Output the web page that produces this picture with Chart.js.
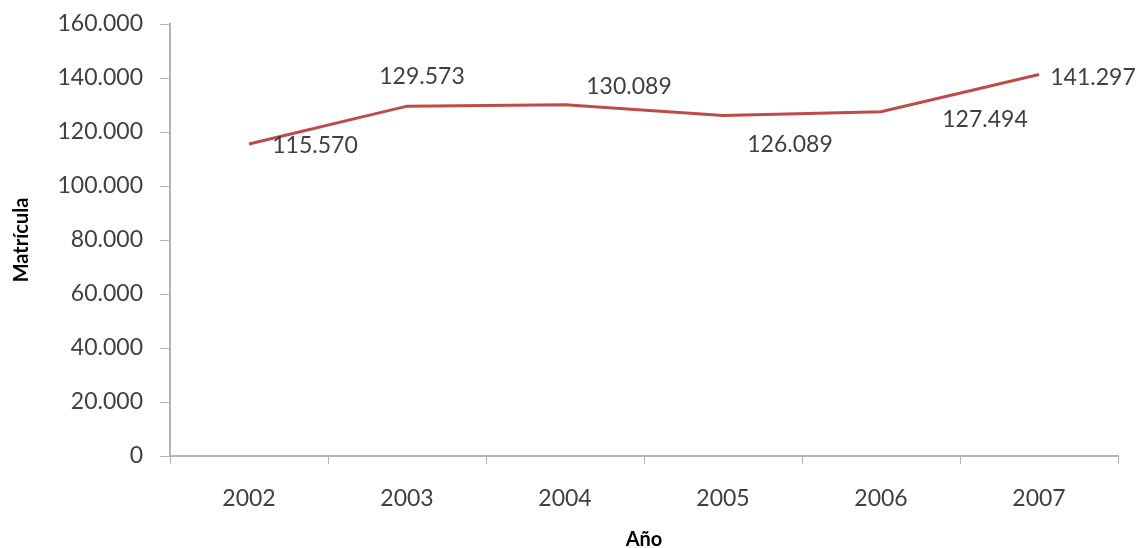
<!DOCTYPE html>
<html lang="es">

<head>
    <meta charset="UTF-8">
    <title>Matrícula 2002-2007</title>
    <style>
        html, body { margin: 0; padding: 0; background: #fff; }
        #wrap { width: 1141px; height: 548px; }
    </style>
</head>

<body>
    <div id="wrap">
        <canvas id="myChart" width="1141" height="548"></canvas>
    </div>

    <script src="https://cdn.jsdelivr.net/npm/chart.js@4.4.1/dist/chart.umd.min.js"></script>

    <script>
        // data
        var years = ['2002', '2003', '2004', '2005', '2006', '2007'];
        var matricula = [115570, 129573, 130089, 126089, 127494, 141297];
        var yTicks = [0, 20000, 40000, 60000, 80000, 100000, 120000, 140000, 160000];

        // where each value label sits relative to its point (x, y in px)
        var labelShift = [[66, 2], [15, -30], [64, -18], [67, 29], [104, 8], [54, 3]];

        var textColor = '#404040';
        var axisColor = '#B4B4B4';
        var fontName = 'Lato, "Open Sans", sans-serif';

        function miles(n) {
            return String(n).replace(/\B(?=(\d{3})+(?!\d))/g, '.');
        }

        var valueLabels = {
            id: 'valueLabels',
            afterDatasetsDraw: function (chart) {
                var ctx = chart.ctx;
                var meta = chart.getDatasetMeta(0);
                ctx.save();
                ctx.font = '23px ' + fontName;
                ctx.fillStyle = textColor;
                ctx.textAlign = 'center';
                ctx.textBaseline = 'middle';
                meta.data.forEach(function (pt, i) {
                    var s = labelShift[i];
                    ctx.fillText(miles(matricula[i]), pt.x + s[0], pt.y + s[1]);
                });
                ctx.restore();
            }
        };

        var ctx = document.getElementById('myChart').getContext('2d');
        var chart = new Chart(ctx, {
            type: 'line',
            data: {
                labels: years,
                datasets: [{
                    data: matricula,
                    borderColor: '#BE4B48',
                    borderWidth: 3,
                    pointRadius: 0,
                    tension: 0,
                    fill: false
                }]
            },
            options: {
                responsive: false,
                animation: false,
                layout: { padding: { top: 24, right: 23, left: 0, bottom: 0 } },
                plugins: {
                    legend: { display: false },
                    tooltip: { enabled: false }
                },
                scales: {
                    x: {
                        offset: true,
                        grid: {
                            offset: true,
                            drawOnChartArea: false,
                            color: axisColor,
                            tickLength: 8
                        },
                        border: { color: axisColor, width: 2 },
                        ticks: {
                            color: textColor,
                            padding: 21,
                            maxRotation: 0,
                            font: { family: fontName, size: 23 }
                        },
                        title: {
                            display: true,
                            text: 'Año',
                            color: '#000',
                            padding: { top: 0, bottom: 0 },
                            font: { family: fontName, size: 20, weight: 'bold', lineHeight: 0.8 }
                        },
                        afterFit: function (scale) {
                            scale.height = 92;
                            scale.paddingLeft = 0;
                            scale.paddingRight = 0;
                        }
                    },
                    y: {
                        min: 0,
                        max: 160000,
                        grid: {
                            drawOnChartArea: false,
                            color: axisColor,
                            tickLength: 10
                        },
                        border: { color: axisColor, width: 2 },
                        afterBuildTicks: function (scale) {
                            scale.ticks = yTicks.map(function (v) { return { value: v }; });
                        },
                        ticks: {
                            color: textColor,
                            padding: 17,
                            font: { family: fontName, size: 23 },
                            callback: function (v) { return miles(v); }
                        },
                        title: {
                            display: true,
                            text: 'Matrícula',
                            color: '#000',
                            padding: { top: 10, bottom: 0 },
                            font: { family: fontName, size: 20, weight: 'bold' }
                        },
                        afterFit: function (scale) {
                            scale.width = 170;
                            scale.paddingTop = 0;
                            scale.paddingBottom = 0;
                        }
                    }
                }
            },
            plugins: [valueLabels]
        });
    </script>
</body>

</html>
